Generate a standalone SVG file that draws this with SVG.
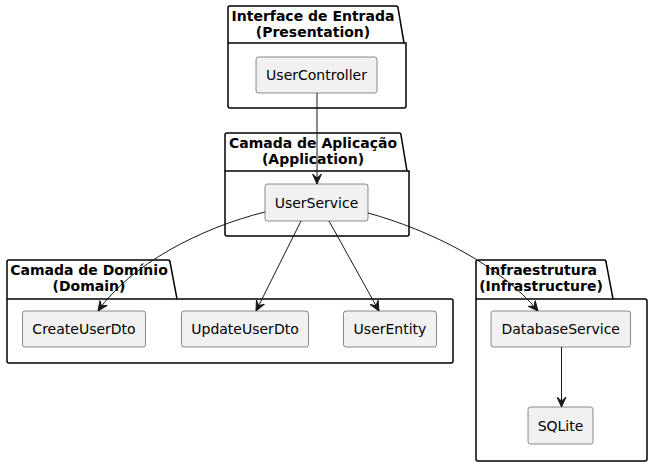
<svg xmlns="http://www.w3.org/2000/svg" width="652" height="466" viewBox="0 0 652 466">
<style>
.pkg{fill:#FFFFFF;stroke:#000000;stroke-width:1.5;}
.pt{font-family:"DejaVu Sans",sans-serif;font-size:14px;font-weight:bold;fill:#000000;text-anchor:middle;}
.box{fill:#F1F1F1;stroke:#181818;stroke-width:0.5;}
.bt{font-family:"DejaVu Sans",sans-serif;font-size:14px;fill:#000000;text-anchor:middle;}
.edge{fill:none;stroke:#181818;stroke-width:1;}
</style>
<defs>
<marker id="arr" viewBox="0 0 10 10" refX="10" refY="5" markerWidth="10" markerHeight="10" markerUnits="userSpaceOnUse" orient="auto">
<path d="M0,0.5 L10,5 L0,9.5 L4,5 Z" fill="#181818" stroke="#181818" stroke-width="1" stroke-linejoin="miter"/>
</marker>
</defs>
<g id="pkg-presentation">
<path class="pkg" d="M230,6 L396,6 Q398,6 398,8 L404,43 L406,43 L406,106 Q406,108 404,108 L230,108 Q228,108 228,106 L228,8 Q228,6 230,6 Z"/>
<line class="pkg" x1="228" y1="43" x2="404" y2="43"/>
<text class="pt" x="313" y="21">Interface de Entrada</text>
<text class="pt" x="313" y="37">(Presentation)</text>
</g>
<g id="pkg-application">
<path class="pkg" d="M227,133 L399,133 Q401,133 401,135 L407,171 L409,171 L409,234 Q409,236 407,236 L227,236 Q225,236 225,234 L225,135 Q225,133 227,133 Z"/>
<line class="pkg" x1="225" y1="171" x2="407" y2="171"/>
<text class="pt" x="313" y="148">Camada de Aplicação</text>
<text class="pt" x="313" y="164">(Application)</text>
</g>
<g id="pkg-domain">
<path class="pkg" d="M9,260 L168,260 Q170,260 170,262 L177,299 L451,299 Q453,299 453,301 L453,361 Q453,363 451,363 L9,363 Q7,363 7,361 L7,262 Q7,260 9,260 Z"/>
<line class="pkg" x1="7" y1="299" x2="177" y2="299"/>
<text class="pt" x="89" y="275">Camada de Domínio</text>
<text class="pt" x="89" y="291">(Domain)</text>
</g>
<g id="pkg-infrastructure">
<path class="pkg" d="M478,260 L604,260 Q606,260 606,262 L613,299 L645,299 Q647,299 647,301 L647,459 Q647,461 645,461 L478,461 Q476,461 476,459 L476,262 Q476,260 478,260 Z"/>
<line class="pkg" x1="476" y1="299" x2="613" y2="299"/>
<text class="pt" x="541" y="275">Infraestrutura</text>
<text class="pt" x="541" y="291">(Infrastructure)</text>
</g>
<g id="UserController">
<rect class="box" x="256" y="57" width="121" height="36" rx="2.5"/>
<text class="bt" x="316.5" y="80">UserController</text>
</g>
<g id="UserService">
<rect class="box" x="265" y="184" width="103" height="37" rx="2.5"/>
<text class="bt" x="316.5" y="207.5">UserService</text>
</g>
<g id="CreateUserDto">
<rect class="box" x="22.5" y="311" width="123" height="36" rx="2.5"/>
<text class="bt" x="84" y="334">CreateUserDto</text>
</g>
<g id="UpdateUserDto">
<rect class="box" x="181.5" y="311" width="127" height="36" rx="2.5"/>
<text class="bt" x="245" y="334">UpdateUserDto</text>
</g>
<g id="UserEntity">
<rect class="box" x="343.5" y="311" width="93" height="36" rx="2.5"/>
<text class="bt" x="390" y="334">UserEntity</text>
</g>
<g id="DatabaseService">
<rect class="box" x="491" y="311" width="139.5" height="36" rx="2.5"/>
<text class="bt" x="560.7" y="334">DatabaseService</text>
</g>
<g id="SQLite">
<rect class="box" x="528" y="407" width="65" height="37" rx="2.5"/>
<text class="bt" x="560.5" y="430.5">SQLite</text>
</g>
<g id="connectors">
<path class="edge" marker-end="url(#arr)" d="M317,93 L317,184"/>
<path class="edge" marker-end="url(#arr)" d="M265,212 C200,228 130,265 98,311"/>
<path class="edge" marker-end="url(#arr)" d="M301,221 L256,311"/>
<path class="edge" marker-end="url(#arr)" d="M329,221 L379,311"/>
<path class="edge" marker-end="url(#arr)" d="M368,213 C430,230 500,265 538,311"/>
<path class="edge" marker-end="url(#arr)" d="M561.5,347 L561.5,407"/>
</g>
</svg>
